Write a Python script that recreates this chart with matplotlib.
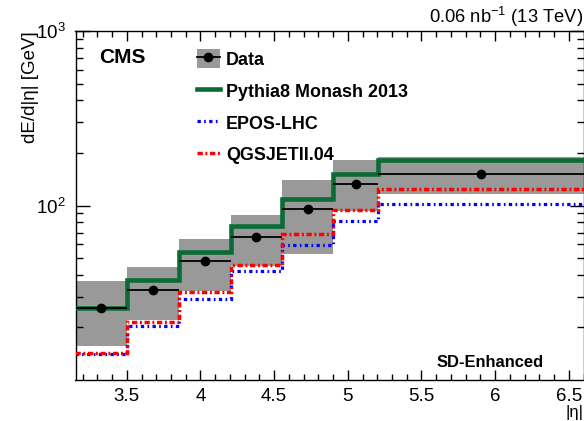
import numpy as np
import matplotlib
matplotlib.use("Agg")
import matplotlib.pyplot as plt
from matplotlib.lines import Line2D
from matplotlib.patches import Patch
from matplotlib.ticker import FixedLocator, MultipleLocator

plt.rcParams['font.family'] = ['Liberation Sans', 'DejaVu Sans']
plt.rcParams['mathtext.fontset'] = 'custom'
plt.rcParams['mathtext.rm'] = 'Liberation Sans'
plt.rcParams['mathtext.it'] = 'Liberation Sans:italic'
plt.rcParams['mathtext.bf'] = 'Liberation Sans:bold'
plt.rcParams['lines.scale_dashes'] = False

# |eta| bin edges (HF towers + CASTOR)
edges = [3.152, 3.503, 3.853, 4.205, 4.552, 4.903, 5.205, 6.6]

# measured dE/d|eta| and systematic band
data = [26.0, 33.0, 48.3, 65.7, 95.7, 132.9, 152.1]
data_lo = [15.7, 22.0, 32.5, 45.2, 52.8, 92.4, 116.7]
data_hi = [37.1, 44.6, 64.4, 88.4, 140.2, 182.6, 189.5]

# generator predictions
pythia = [25.7, 37.4, 54.4, 76.8, 109.3, 152.1, 181.4]
epos = [14.1, 20.4, 29.3, 42.0, 59.3, 82.0, 102.3]
qgsjet = [14.35, 21.6, 31.8, 45.6, 68.6, 94.6, 123.6]

edges = np.array(edges)
centers = 0.5 * (edges[1:] + edges[:-1])
widths = np.diff(edges)

green = '#0b6b35'
gray = '#999999'
epos_ls = (0, (2.4, 2.4, 1.2, 2.4))
qgs_ls = (0, (3.8, 1.9, 1.4, 1.9))

fig = plt.figure(figsize=(5.84, 4.21), dpi=100)
ax = fig.add_axes([75.5 / 584, 1 - 380 / 421, 508 / 584, 349 / 421])

# systematic uncertainty boxes
ax.bar(edges[:-1], np.array(data_hi) - np.array(data_lo), width=widths,
       bottom=data_lo, align='edge', color=gray, linewidth=0, zorder=1)

# model histograms
ax.stairs(epos, edges, baseline=None, color='blue', lw=2.3,
          linestyle=epos_ls, zorder=3)
ax.stairs(qgsjet, edges, baseline=None, color='red', lw=2.5,
          linestyle=qgs_ls, zorder=4)
ax.stairs(pythia, edges, baseline=None, color=green, lw=3.3, zorder=5)

# data points with bin-width bars
ax.errorbar(centers, data, xerr=widths / 2, fmt='o', color='black',
            ms=6, elinewidth=1.3, capsize=0, zorder=6)

ax.set_yscale('log')
ax.set_xlim(3.152, 6.6)
ax.set_ylim(10, 1000)

ax.xaxis.set_major_locator(FixedLocator([3.5, 4, 4.5, 5, 5.5, 6, 6.5]))
ax.xaxis.set_minor_locator(MultipleLocator(0.1))
ax.set_xticklabels(['3.5', '4', '4.5', '5', '5.5', '6', '6.5'])
ax.yaxis.set_major_locator(FixedLocator([100, 1000]))
ax.yaxis.set_minor_locator(FixedLocator([20, 30, 40, 50, 60, 70, 80, 90,
                                         200, 300, 400, 500, 600, 700, 800, 900]))
ax.set_yticklabels([r'$10^{2}$', r'$10^{3}$'])
ax.yaxis.set_minor_formatter(plt.NullFormatter())

ax.tick_params(which='both', direction='in', top=True, right=True,
               labelsize=13.5, width=1.0)
ax.tick_params(axis='x', which='major', length=7.5, pad=6)
ax.tick_params(axis='x', which='minor', length=4)
ax.tick_params(axis='y', which='major', length=10, pad=7)
ax.tick_params(axis='y', which='minor', length=5)
for s in ax.spines.values():
    s.set_linewidth(1.0)

ax.set_xlabel('|η|', fontsize=12, loc='right', labelpad=-0.5)
ax.set_ylabel('dE/d|η| [GeV]', fontsize=13.5, loc='top', labelpad=-2)

ax.text(0.046, 0.908, 'CMS', fontsize=15, fontweight='bold',
        transform=ax.transAxes)
ax.text(1.0, 1.023, r'0.06 nb$^{-1}$ (13 TeV)', fontsize=13.2, ha='right',
        va='baseline', transform=ax.transAxes)
ax.text(0.921, 0.038, 'SD-Enhanced', fontsize=11.9, fontweight='bold',
        ha='right', va='baseline', transform=ax.transAxes)

handles = [
    (Patch(facecolor=gray, linewidth=0),
     Line2D([], [], color='black', lw=1.3, marker='o', ms=6)),
    Line2D([], [], color=green, lw=3.3),
    Line2D([], [], color='blue', lw=2.3, linestyle=epos_ls),
    Line2D([], [], color='red', lw=2.5, linestyle=qgs_ls),
]
labels = ['Data', 'Pythia8 Monash 2013', 'EPOS-LHC', 'QGSJETII.04']
ax.legend(handles, labels, loc='upper left', bbox_to_anchor=(0.239, 0.947),
          frameon=False, borderpad=0, borderaxespad=0,
          prop={'weight': 'bold', 'size': 12.9}, handlelength=1.29,
          handleheight=1.17, handletextpad=0.34, labelspacing=0.72)

fig.savefig('out.png', dpi=100)
